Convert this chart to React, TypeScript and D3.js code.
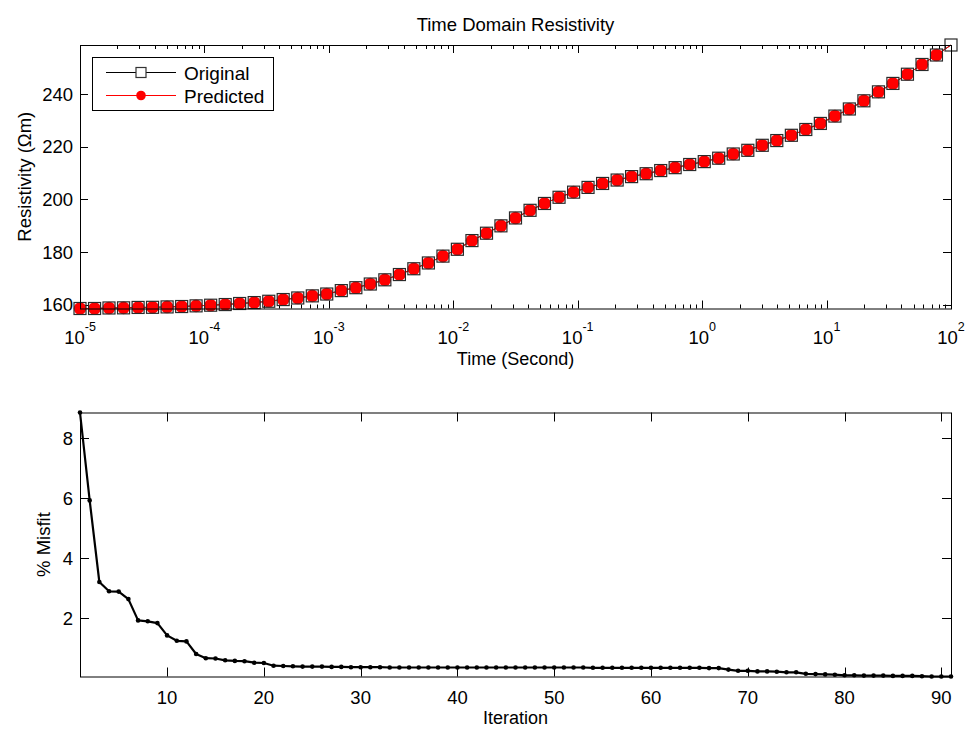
import React from 'react';
import * as d3 from 'd3';

// ---- Data ----
const timeExponents = [
  -5.0, -4.883, -4.767, -4.65, -4.533, -4.417, -4.3, -4.183, -4.067, -3.95,
  -3.833, -3.717, -3.6, -3.483, -3.367, -3.25, -3.133, -3.017, -2.9, -2.783,
  -2.667, -2.55, -2.433, -2.317, -2.2, -2.083, -1.967, -1.85, -1.733, -1.617,
  -1.5, -1.383, -1.267, -1.15, -1.033, -0.917, -0.8, -0.683, -0.567, -0.45,
  -0.333, -0.217, -0.1, 0.017, 0.133, 0.25, 0.367, 0.483, 0.6, 0.717,
  0.833, 0.95, 1.067, 1.183, 1.3, 1.417, 1.533, 1.65, 1.767, 1.883, 2.0,
];

const originalRho = [
  158.5, 158.5, 158.7, 158.75, 158.9, 158.95, 159.1, 159.25, 159.5, 159.75,
  160.0, 160.4, 160.75, 161.25, 161.9, 162.5, 163.3, 164.0, 165.3, 166.4,
  167.8, 169.4, 171.4, 173.6, 175.8, 178.4, 181.0, 184.3, 187.1, 189.9,
  192.9, 195.8, 198.4, 200.75, 202.7, 204.5, 206.0, 207.3, 208.6, 209.7,
  210.9, 212.0, 213.2, 214.3, 215.6, 217.2, 218.6, 220.5, 222.3, 224.3,
  226.5, 228.8, 231.6, 234.3, 237.4, 240.8, 244.0, 247.5, 251.2, 254.8,
  258.6,
];

const predictedRho = [
  158.5, 158.5, 158.7, 158.75, 158.9, 158.95, 159.1, 159.25, 159.5, 159.75,
  160.0, 160.4, 160.75, 161.25, 161.9, 162.5, 163.3, 164.0, 165.3, 166.4,
  167.8, 169.4, 171.4, 173.6, 175.8, 178.4, 181.0, 184.3, 187.1, 189.9,
  192.9, 195.8, 198.4, 200.75, 202.7, 204.5, 206.0, 207.3, 208.6, 209.7,
  210.9, 212.0, 213.2, 214.3, 215.6, 217.2, 218.6, 220.5, 222.3, 224.3,
  226.5, 228.8, 231.6, 234.3, 237.4, 240.8, 244.0, 247.5, 251.2, 254.8,
  258.6,
];

const misfit = [
  8.85, 5.92, 3.2, 2.89, 2.88, 2.63, 1.92, 1.89, 1.83, 1.42,
  1.24, 1.22, 0.8, 0.66, 0.65, 0.59, 0.57, 0.56, 0.51, 0.5,
  0.41, 0.4, 0.39, 0.38, 0.38, 0.38, 0.37, 0.37, 0.36, 0.36,
  0.36, 0.36, 0.35, 0.35, 0.35, 0.35, 0.35, 0.35, 0.35, 0.35,
  0.35, 0.35, 0.35, 0.35, 0.35, 0.35, 0.35, 0.35, 0.35, 0.35,
  0.35, 0.35, 0.35, 0.34, 0.34, 0.34, 0.34, 0.34, 0.34, 0.34,
  0.34, 0.34, 0.34, 0.34, 0.34, 0.33, 0.33, 0.28, 0.24, 0.24,
  0.22, 0.22, 0.21, 0.19, 0.19, 0.14, 0.13, 0.12, 0.11, 0.09,
  0.09, 0.08, 0.08, 0.08, 0.07, 0.07, 0.07, 0.06, 0.05, 0.05,
  0.05,
];

const topXTickExps = [-5, -4, -3, -2, -1, 0, 1, 2];
const topYTicks = [160, 180, 200, 220, 240];
const botXTicks = [10, 20, 30, 40, 50, 60, 70, 80, 90];
const botYTicks = [2, 4, 6, 8];

const FONT = '"Liberation Sans", Arial, Helvetica, sans-serif';

export default function App() {
  const W = 970;
  const H = 731;

  // top axes box
  const tL = 80, tR = 951, tT = 45, tB = 308.5;
  // bottom axes box
  const bL = 80, bR = 951, bT = 412.5, bB = 676.5;

  const times = timeExponents.map((e) => Math.pow(10, e));
  const x1 = d3.scaleLog().domain([1e-5, 1e2]).range([tL, tR]);
  const y1 = d3
    .scaleLinear()
    .domain([d3.min(originalRho) as number, d3.max(originalRho) as number])
    .range([tB, tT]);

  const iters = misfit.map((_, i) => i + 1);
  const x2 = d3.scaleLinear().domain([1, misfit.length]).range([bL, bR]);
  const y2 = d3
    .scaleLinear()
    .domain([d3.min(misfit) as number, d3.max(misfit) as number])
    .range([bB, bT]);

  const origLine = d3
    .line<number>()
    .x((_, i) => x1(times[i]))
    .y((d) => y1(d))(originalRho) as string;
  const predLine = d3
    .line<number>()
    .x((_, i) => x1(times[i]))
    .y((d) => y1(d))(predictedRho) as string;
  const misLine = d3
    .line<number>()
    .x((_, i) => x2(iters[i]))
    .y((d) => y2(d))(misfit) as string;

  const minorTicks: number[] = [];
  for (let e = -5; e < 2; e++) {
    for (let k = 2; k <= 9; k++) minorTicks.push(k * Math.pow(10, e));
  }

  const MAJ = 8;
  const MIN = 4;
  const fs = 18.5;

  return (
    <svg
      width={W}
      height={H}
      style={{ position: 'absolute', left: 0, top: 0, background: '#fff' }}
      fontFamily={FONT}
    >
      <rect x={0} y={0} width={W} height={H} fill="#fff" />

      {/* ===== TOP PLOT ===== */}
      <text x={(tL + tR) / 2} y={31} textAnchor="middle" fontSize={18.5} fill="#000">
        Time Domain Resistivity
      </text>

      {/* ticks */}
      <g stroke="#000" strokeWidth={1}>
        {topXTickExps.map((e) => {
          const x = Math.round(x1(Math.pow(10, e))) + 0.5;
          return (
            <g key={'tx' + e}>
              <line x1={x} x2={x} y1={tB} y2={tB - MAJ} />
              <line x1={x} x2={x} y1={tT} y2={tT + MAJ} />
            </g>
          );
        })}
        {minorTicks.map((v, i) => {
          const x = Math.round(x1(v)) + 0.5;
          return (
            <g key={'mx' + i}>
              <line x1={x} x2={x} y1={tB} y2={tB - MIN} />
              <line x1={x} x2={x} y1={tT} y2={tT + MIN} />
            </g>
          );
        })}
        {topYTicks.map((v) => {
          const y = Math.round(y1(v)) + 0.5;
          return (
            <g key={'ty' + v}>
              <line x1={tL} x2={tL + MAJ} y1={y} y2={y} />
              <line x1={tR} x2={tR - MAJ} y1={y} y2={y} />
            </g>
          );
        })}
      </g>

      {/* tick labels */}
      {topXTickExps.map((e) => (
        <text
          key={'txl' + e}
          x={x1(Math.pow(10, e))}
          y={343.5}
          textAnchor="middle"
          fontSize={fs}
          fill="#000"
        >
          10
          <tspan fontSize={12.5} dy={-13}>
            {e}
          </tspan>
        </text>
      ))}
      {topYTicks.map((v) => (
        <text
          key={'tyl' + v}
          x={tL - 7}
          y={y1(v) + 6.6}
          textAnchor="end"
          fontSize={fs}
          fill="#000"
        >
          {v}
        </text>
      ))}

      <text x={(tL + tR) / 2} y={365} textAnchor="middle" fontSize={18} fill="#000">
        Time (Second)
      </text>
      <text
        transform={`translate(31,${(tT + tB) / 2}) rotate(-90)`}
        textAnchor="middle"
        fontSize={18.5}
        fill="#000"
      >
        Resistivity (Ωm)
      </text>

      {/* series */}
      <path d={origLine} fill="none" stroke="#000" strokeWidth={1} />
      <path d={predLine} fill="none" stroke="#ff0000" strokeWidth={1} />
      {predictedRho.map((v, i) =>
        i < predictedRho.length - 1 ? (
          <circle key={'pc' + i} cx={x1(times[i])} cy={y1(v)} r={6.3} fill="#ff0000" />
        ) : null
      )}
      {originalRho.map((v, i) => (
        <rect
          key={'os' + i}
          x={x1(times[i]) - 6}
          y={y1(v) - 6}
          width={12}
          height={12}
          fill="none"
          stroke="#2a2a2a"
          strokeWidth={1.2}
        />
      ))}

      {/* frame */}
      <rect
        x={tL + 0.5}
        y={tT + 0.5}
        width={tR - tL}
        height={tB - tT}
        fill="none"
        stroke="#000"
        strokeWidth={1}
      />

      {/* legend */}
      <rect x={92.5} y={57.5} width={181} height={53} fill="#fff" stroke="#000" strokeWidth={1} />
      <line x1={106} x2={176} y1={72.5} y2={72.5} stroke="#000" strokeWidth={1} />
      <rect x={136} y={67.5} width={10} height={10} fill="#fff" stroke="#333" strokeWidth={1.2} />
      <text x={184} y={80} fontSize={19} fill="#000">
        Original
      </text>
      <line x1={106} x2={176} y1={95.5} y2={95.5} stroke="#ff0000" strokeWidth={1} />
      <circle cx={141} cy={95.5} r={4.8} fill="#ff0000" />
      <text x={184} y={103} fontSize={19} fill="#000">
        Predicted
      </text>

      {/* ===== BOTTOM PLOT ===== */}
      <g stroke="#000" strokeWidth={1}>
        {botXTicks.map((v) => {
          const x = Math.round(x2(v)) + 0.5;
          return (
            <g key={'bx' + v}>
              <line x1={x} x2={x} y1={bB} y2={bB - 9} />
              <line x1={x} x2={x} y1={bT} y2={bT + 9} />
            </g>
          );
        })}
        {botYTicks.map((v) => {
          const y = Math.round(y2(v)) + 0.5;
          return (
            <g key={'by' + v}>
              <line x1={bL} x2={bL + 9} y1={y} y2={y} />
              <line x1={bR} x2={bR - 9} y1={y} y2={y} />
            </g>
          );
        })}
      </g>
      {botXTicks.map((v) => (
        <text key={'bxl' + v} x={x2(v)} y={704} textAnchor="middle" fontSize={fs} fill="#000">
          {v}
        </text>
      ))}
      {botYTicks.map((v) => (
        <text
          key={'byl' + v}
          x={bL - 7}
          y={y2(v) + 6.6}
          textAnchor="end"
          fontSize={fs}
          fill="#000"
        >
          {v}
        </text>
      ))}
      <text x={(bL + bR) / 2} y={724} textAnchor="middle" fontSize={18} fill="#000">
        Iteration
      </text>
      <text
        transform={`translate(50,${(bT + bB) / 2}) rotate(-90)`}
        textAnchor="middle"
        fontSize={18.5}
        fill="#000"
      >
        % Misfit
      </text>

      <rect
        x={bL + 0.5}
        y={bT + 0.5}
        width={bR - bL}
        height={bB - bT}
        fill="none"
        stroke="#000"
        strokeWidth={1}
      />
      <path d={misLine} fill="none" stroke="#000" strokeWidth={2.2} strokeLinejoin="round" />
      {misfit.map((v, i) => (
        <circle key={'mc' + i} cx={x2(iters[i])} cy={y2(v)} r={2.3} fill="#000" />
      ))}
    </svg>
  );
}
